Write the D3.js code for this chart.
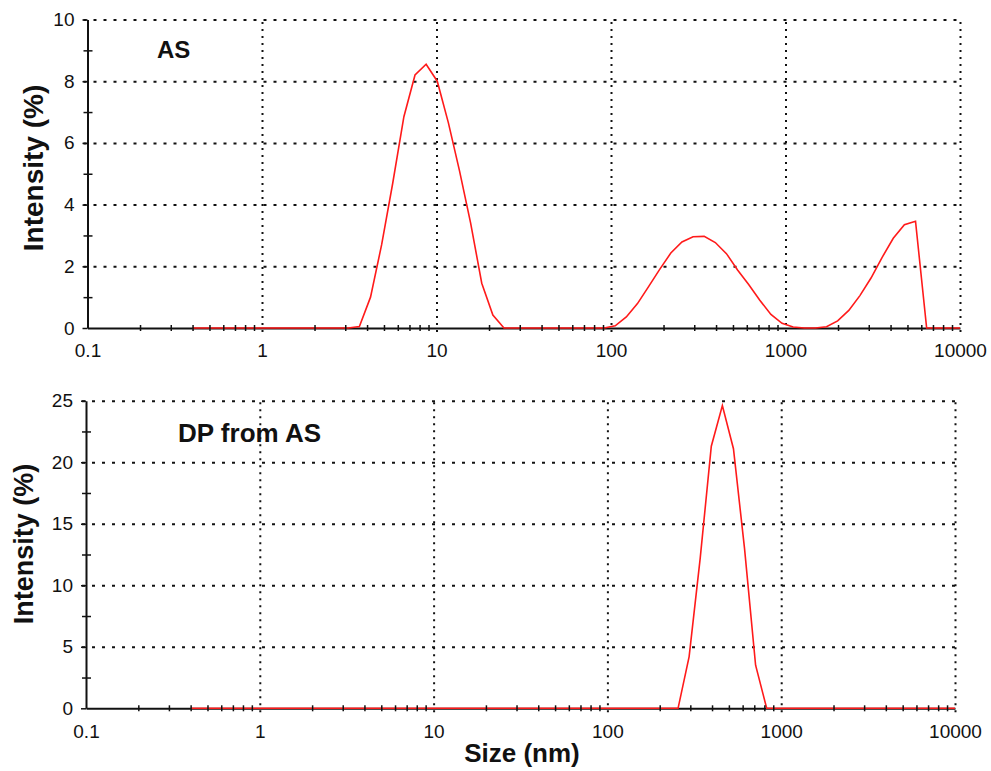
<!DOCTYPE html>
<html>
<head>
<meta charset="utf-8">
<script src="https://cdn.jsdelivr.net/npm/d3@7"></script>
<style>
  body { margin: 0; background: #fff; }
  svg { display: block; font-family: "Liberation Sans", Arial, sans-serif; }
  .grid line { stroke: #111; stroke-width: 2; }
  .grid path { display: none; }
</style>
</head>
<body>
<div id="chart"></div>
<script>
'use strict';

// size classes (nm)
var sizes = [0.4, 0.4632, 0.5365, 0.6213, 0.7195, 0.8332, 0.9649, 1.117, 1.294, 1.499,
  1.736, 2.010, 2.328, 2.696, 3.122, 3.615, 4.187, 4.849, 5.615, 6.503,
  7.531, 8.721, 10.10, 11.70, 13.54, 15.69, 18.17, 21.04, 24.36, 28.21,
  32.67, 37.84, 43.82, 50.75, 58.77, 68.06, 78.82, 91.28, 105.7, 122.4,
  141.8, 164.2, 190.1, 220.2, 255.0, 295.3, 342.0, 396.1, 458.7, 531.2,
  615.1, 712.4, 825.0, 955.4, 1106, 1281, 1484, 1718, 1990, 2305,
  2669, 3091, 3580, 4145, 4801, 5560, 6439, 7456, 8635, 10000];

// intensity (%) for "AS"
var intensityAS = [0, 0, 0, 0, 0, 0, 0, 0, 0, 0,
  0, 0, 0, 0, 0, 0.05, 1.0, 2.7, 4.7, 6.85,
  8.2, 8.55, 8.0, 6.65, 5.1, 3.4, 1.45, 0.42, 0, 0,
  0, 0, 0, 0, 0, 0, 0, 0, 0.07, 0.36,
  0.79, 1.34, 1.9, 2.43, 2.79, 2.96, 2.97, 2.77, 2.41, 1.88,
  1.41, 0.9, 0.44, 0.15, 0.03, 0, 0, 0.04, 0.23, 0.57,
  1.05, 1.62, 2.29, 2.91, 3.35, 3.46, 0, 0, 0, 0];

// intensity (%) for "DP from AS"
var intensityDP = [0, 0, 0, 0, 0, 0, 0, 0, 0, 0,
  0, 0, 0, 0, 0, 0, 0, 0, 0, 0,
  0, 0, 0, 0, 0, 0, 0, 0, 0, 0,
  0, 0, 0, 0, 0, 0, 0, 0, 0, 0,
  0, 0, 0, 0, 0, 4.2, 12.2, 21.3, 24.6, 21.1,
  13.0, 3.5, 0, 0, 0, 0, 0, 0, 0, 0,
  0, 0, 0, 0, 0, 0, 0, 0, 0, 0];

var xDecades = [0.1, 1, 10, 100, 1000, 10000];
var xTickLabels = ["0.1", "1", "10", "100", "1000", "10000"];
var yTicksAS = [0, 2, 4, 6, 8, 10];
var yTicksDP = [0, 5, 10, 15, 20, 25];

var svg = d3.select("#chart").append("svg")
  .attr("width", 991)
  .attr("height", 771);

function panel(opts) {
  var x = d3.scaleLog().domain([0.1, 10000]).range([opts.left, opts.right]);
  var y = d3.scaleLinear().domain([0, opts.yMax]).range([opts.bottom, opts.top]);
  var g = svg.append("g");

  // minor x ticks
  var minor = [];
  xDecades.slice(0, -1).forEach(function(d) {
    for (var k = 2; k < 10; k++) minor.push(d * k);
  });

  // grid: verticals at decades, horizontals at major y
  g.append("g").attr("class", "grid")
    .attr("transform", "translate(0," + opts.bottom + ")")
    .call(d3.axisBottom(x).tickValues(xDecades.slice(1)).tickSize(-(opts.bottom - opts.top) - 0).tickSizeOuter(0).tickFormat(""))
    .selectAll(".tick line")
      .attr("y1", 4)
      .attr("stroke-dasharray", "2,5");

  g.append("g").attr("class", "grid")
    .attr("transform", "translate(" + opts.left + ",0)")
    .call(d3.axisLeft(y).tickValues(opts.yTicks.slice(1)).tickSize(-(opts.right - opts.left)).tickSizeOuter(0).tickFormat(""))
    .selectAll(".tick line")
      .attr("x1", -4)
      .attr("stroke-dasharray", "3,7");

  // y axis, major and minor ticks crossing the line
  var step = opts.yTicks[1] - opts.yTicks[0];
  var yMinor = opts.yTicks.slice(0, -1).map(function(v) { return v + step / 2; });

  var yAxisG = g.append("g")
    .attr("transform", "translate(" + opts.left + ",0)")
    .call(d3.axisLeft(y).tickValues(opts.yTicks).tickSize(5).tickSizeOuter(0).tickPadding(8).tickFormat(d3.format("d")));
  yAxisG.select(".domain").attr("stroke", "#111").attr("stroke-width", 2);
  yAxisG.selectAll(".tick line").attr("stroke", "#111").attr("stroke-width", 1.5);
  yAxisG.selectAll(".tick text")
    .attr("font-size", 19)
    .attr("fill", "#111");

  var yMinorG = g.append("g")
    .attr("transform", "translate(" + opts.left + ",0)")
    .call(d3.axisLeft(y).tickValues(yMinor).tickSize(5).tickSizeOuter(0).tickFormat(""));
  yMinorG.select(".domain").remove();
  yMinorG.selectAll(".tick line").attr("x2", 5).attr("x1", -4).attr("stroke", "#111").attr("stroke-width", 1.5);

  // x axis
  var xAxisG = g.append("g")
    .attr("transform", "translate(0," + opts.bottom + ")")
    .call(d3.axisBottom(x).tickValues(xDecades).tickSize(0).tickSizeOuter(0).tickPadding(16)
      .tickFormat(function(d, i) { return xTickLabels[i]; }));
  xAxisG.select(".domain").attr("stroke", "#111").attr("stroke-width", 2);
  xAxisG.selectAll(".tick text")
    .attr("font-size", 19)
    .attr("fill", "#111");

  // curve
  g.append("path")
    .datum(sizes.map(function(s, i) { return { x: s, y: opts.values[i] }; }))
    .attr("fill", "none")
    .attr("stroke", "#ff1a1a")
    .attr("stroke-width", 1.6)
    .attr("d", d3.line()
      .x(function(d) { return x(d.x); })
      .y(function(d) { return y(d.y); }));

  var xMinorG = g.append("g")
    .attr("transform", "translate(0," + opts.bottom + ")")
    .call(d3.axisBottom(x).tickValues(minor).tickSize(3).tickSizeOuter(0).tickFormat(""));
  xMinorG.select(".domain").remove();
  xMinorG.selectAll(".tick line").attr("y1", -3).attr("stroke", "#111").attr("stroke-width", 1.5);

  // panel label
  g.append("text")
    .attr("x", opts.labelX)
    .attr("y", opts.labelY)
    .attr("font-size", opts.labelSize)
    .attr("font-weight", "bold")
    .attr("fill", "#111")
    .text(opts.label);

  // y title
  g.append("text")
    .attr("transform", "translate(" + opts.yTitleX + "," + opts.yTitleY + ") rotate(-90)")
    .attr("text-anchor", "middle")
    .attr("font-size", opts.yTitleSize)
    .attr("font-weight", "bold")
    .attr("fill", "#111")
    .text("Intensity (%)");

  return g;
}

panel({
  left: 87.5, right: 960, top: 19.5, bottom: 328,
  yMax: 10, yTicks: yTicksAS, values: intensityAS,
  label: "AS", labelX: 157, labelY: 58, labelSize: 24,
  yTitleX: 43, yTitleY: 168, yTitleSize: 28
});

panel({
  left: 86, right: 955, top: 400.7, bottom: 708.3,
  yMax: 25, yTicks: yTicksDP, values: intensityDP,
  label: "DP from AS", labelX: 178, labelY: 442, labelSize: 26,
  yTitleX: 33, yTitleY: 544, yTitleSize: 27
});

// x title
svg.append("text")
  .attr("x", 522)
  .attr("y", 762)
  .attr("text-anchor", "middle")
  .attr("font-size", 26)
  .attr("font-weight", "bold")
  .attr("fill", "#111")
  .text("Size (nm)");
</script>
</body>
</html>
